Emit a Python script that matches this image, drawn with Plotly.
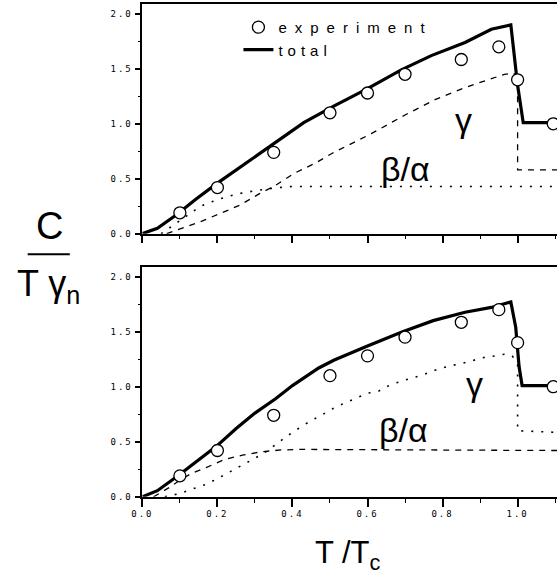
import plotly.graph_objects as go

# ---------------- data ----------------
T_exp = [0.10, 0.20, 0.35, 0.50, 0.60, 0.70, 0.85, 0.95, 1.00, 1.095]
C_exp = [0.19, 0.42, 0.74, 1.10, 1.28, 1.45, 1.585, 1.70, 1.40, 1.00]

# upper panel
T_tot_a = [0.0, 0.04, 0.09, 0.145, 0.20, 0.25, 0.30, 0.355, 0.43, 0.51, 0.60, 0.69, 0.77, 0.86, 0.93, 0.982, 1.0, 1.015, 1.105]
C_tot_a = [0.0, 0.05, 0.17, 0.32, 0.46, 0.58, 0.70, 0.835, 1.01, 1.16, 1.32, 1.49, 1.62, 1.74, 1.86, 1.90, 1.35, 1.01, 1.01]

T_gam_a = [0.065, 0.105, 0.155, 0.205, 0.26, 0.31, 0.355, 0.405, 0.46, 0.505, 0.61, 0.70, 0.78, 0.86, 0.91, 0.965, 0.99, 1.0, 1.0, 1.105]
C_gam_a = [0.0, 0.05, 0.11, 0.18, 0.26, 0.36, 0.44, 0.55, 0.64, 0.73, 0.91, 1.08, 1.22, 1.33, 1.39, 1.45, 1.46, 1.40, 0.58, 0.58]

T_ba_a = [0.05, 0.10, 0.155, 0.20, 0.25, 0.30, 0.35, 0.40, 1.105]
C_ba_a = [0.0, 0.12, 0.25, 0.31, 0.36, 0.39, 0.415, 0.43, 0.43]

# lower panel
T_tot_b = [0.0, 0.04, 0.095, 0.146, 0.198, 0.25, 0.30, 0.355, 0.40, 0.47, 0.51, 0.60, 0.69, 0.775, 0.86, 0.93, 0.982, 0.995, 1.004, 1.012, 1.105]
C_tot_b = [0.0, 0.055, 0.19, 0.32, 0.46, 0.62, 0.76, 0.89, 1.01, 1.17, 1.24, 1.37, 1.495, 1.60, 1.676, 1.72, 1.77, 1.54, 1.18, 1.01, 1.01]

T_ba_b = [0.03, 0.07, 0.10, 0.13, 0.17, 0.22, 0.27, 0.32, 0.37, 0.42, 1.105]
C_ba_b = [0.0, 0.08, 0.15, 0.21, 0.265, 0.34, 0.38, 0.41, 0.425, 0.43, 0.42]

T_gam_b = [0.06, 0.10, 0.142, 0.172, 0.203, 0.233, 0.264, 0.30, 0.33, 0.355, 0.385, 0.416, 0.446, 0.477,
           0.507, 0.538, 0.568, 0.60, 0.63, 0.66, 0.69, 0.75, 0.78, 0.82, 0.845, 0.91, 0.94, 0.965, 0.986,
           1.0, 1.0, 1.105]
C_gam_b = [0.0, 0.03, 0.08, 0.115, 0.17, 0.225, 0.28, 0.35, 0.41, 0.475, 0.55, 0.62, 0.685, 0.74,
           0.80, 0.85, 0.89, 0.94, 0.96, 1.015, 1.05, 1.11, 1.15, 1.19, 1.205, 1.265, 1.28, 1.295, 1.28,
           1.20, 0.60, 0.585]

y_tickvals = [0.0, 0.5, 1.0, 1.5, 2.0]
y_ticklabels = ["0.0", "0.5", "1.0", "1.5", "2.0"]
x_tickvals = [0.0, 0.2, 0.4, 0.6, 0.8, 1.0]
x_ticklabels = ["0.0", "0.2", "0.4", "0.6", "0.8", "1.0"]

# ---------------- figure ----------------
W, H = 557, 588
BLACK = "black"
DASH = "6px,6px"
DOT = "2px,8px"


def spaced(s, px):
    return f"<span style='letter-spacing:{px}px'>{s}</span>"


fig = go.Figure()

# upper panel
fig.add_trace(go.Scatter(x=T_ba_a, y=C_ba_a, mode="lines", line=dict(color=BLACK, width=1.6, dash=DOT),
                         showlegend=False, xaxis="x", yaxis="y"))
fig.add_trace(go.Scatter(x=T_gam_a, y=C_gam_a, mode="lines", line=dict(color=BLACK, width=1.3, dash=DASH),
                         showlegend=False, xaxis="x", yaxis="y"))
fig.add_trace(go.Scatter(x=T_tot_a, y=C_tot_a, mode="lines", line=dict(color=BLACK, width=3.2),
                         name=spaced("total", 5), legendrank=2, xaxis="x", yaxis="y"))
fig.add_trace(go.Scatter(x=T_exp, y=C_exp, mode="markers",
                         marker=dict(symbol="circle", size=12, color="white", line=dict(color=BLACK, width=1.3)),
                         name=spaced("experiment", 8), legendrank=1, xaxis="x", yaxis="y"))

# lower panel
fig.add_trace(go.Scatter(x=T_gam_b, y=C_gam_b, mode="lines", line=dict(color=BLACK, width=1.6, dash=DOT),
                         showlegend=False, xaxis="x2", yaxis="y2"))
fig.add_trace(go.Scatter(x=T_ba_b, y=C_ba_b, mode="lines", line=dict(color=BLACK, width=1.3, dash=DASH),
                         showlegend=False, xaxis="x2", yaxis="y2"))
fig.add_trace(go.Scatter(x=T_tot_b, y=C_tot_b, mode="lines", line=dict(color=BLACK, width=3.2),
                         showlegend=False, xaxis="x2", yaxis="y2"))
fig.add_trace(go.Scatter(x=T_exp, y=C_exp, mode="markers",
                         marker=dict(symbol="circle", size=12, color="white", line=dict(color=BLACK, width=1.3)),
                         showlegend=False, xaxis="x2", yaxis="y2"))

tickfont = dict(family="DejaVu Sans Mono", size=9, color=BLACK)


def xaxis_style(anchor, show_labels):
    return dict(anchor=anchor, domain=[134 / W, 1.0], range=[0, 1.105],
                showline=True, linecolor=BLACK, linewidth=1.6, mirror=True,
                ticks="outside", ticklen=8, tickwidth=1.5, tickcolor=BLACK,
                tickvals=x_tickvals, ticktext=[spaced(t, 2) for t in x_ticklabels],
                showticklabels=show_labels,
                minor=dict(dtick=0.1, tick0=0, ticks="outside", ticklen=4, tickwidth=1.3, tickcolor=BLACK),
                tickfont=tickfont, showgrid=False, zeroline=False)


def yaxis_style(anchor, y0px, y1px):
    return dict(anchor=anchor, domain=[1 - y0px / H, 1 - y1px / H], range=[0, 2.09],
                showline=True, linecolor=BLACK, linewidth=1.6, mirror=False,
                ticks="outside", ticklen=6, tickwidth=1.5, tickcolor=BLACK,
                tickvals=y_tickvals, ticktext=[spaced(t, 2) for t in y_ticklabels],
                minor=dict(dtick=0.25, tick0=0, ticks="outside", ticklen=3, tickwidth=1.3, tickcolor=BLACK),
                tickfont=tickfont, showgrid=False, zeroline=False)


label_font = dict(family="Liberation Sans", size=34, color=BLACK)

annotations = [
    dict(text="γ", x=0.855, y=1.03, xref="x", yref="y", showarrow=False, font=label_font),
    dict(text="β/α", x=0.70, y=0.59, xref="x", yref="y", showarrow=False, font=label_font),
    dict(text="γ", x=0.885, y=1.02, xref="x2", yref="y2", showarrow=False, font=label_font),
    dict(text="β/α", x=0.695, y=0.61, xref="x2", yref="y2", showarrow=False, font=label_font),
    # axis titles
    dict(text="T /T<sub>c</sub>", x=308 / W, y=1 - 560 / H, xref="paper", yref="paper",
         xanchor="left", yanchor="middle", showarrow=False,
         font=dict(family="Liberation Sans", size=31, color=BLACK)),
    dict(text="C", x=39 / W, y=1 - 228 / H, xref="paper", yref="paper",
         xanchor="center", yanchor="middle", showarrow=False,
         font=dict(family="Liberation Sans", size=38, color=BLACK)),
    dict(text="T γ<sub>n</sub>", x=4 / W, y=1 - 288 / H, xref="paper", yref="paper",
         xanchor="left", yanchor="middle", showarrow=False,
         font=dict(family="Liberation Sans", size=36, color=BLACK)),
]

shapes = [
    dict(type="line", xref="paper", yref="paper", x0=17 / W, x1=60 / W,
         y0=1 - 256.5 / H, y1=1 - 256.5 / H, line=dict(color=BLACK, width=2)),
]

fig.update_layout(
    width=W, height=H,
    margin=dict(l=0, r=0, t=0, b=0),
    paper_bgcolor="white", plot_bgcolor="white",
    xaxis=xaxis_style("y", False),
    yaxis=yaxis_style("x", 235.7, 4),
    xaxis2=xaxis_style("y2", True),
    yaxis2=yaxis_style("x2", 501, 269),
    annotations=annotations,
    shapes=shapes,
    legend=dict(x=232 / W, y=1 - 11 / H, xanchor="left", yanchor="top",
                bgcolor="rgba(0,0,0,0)", borderwidth=0, tracegroupgap=0,
                font=dict(family="Liberation Sans", size=15, color=BLACK)),
    showlegend=True,
)

fig.write_html("out.html",
               config={"displayModeBar": False},
               post_script="document.body.style.margin='0';document.body.style.padding='0';"
                           "document.body.style.overflow='hidden';")
